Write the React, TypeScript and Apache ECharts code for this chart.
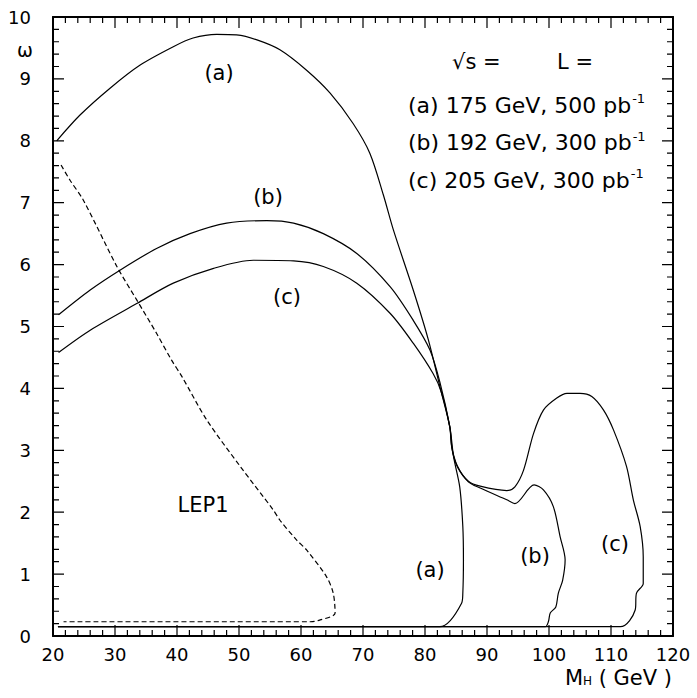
import React, { useEffect, useRef } from "react";
import * as echarts from "echarts";

const xMajorTicks = [20, 30, 40, 50, 60, 70, 80, 90, 100, 110, 120];
const yMajorTicks = [0, 1, 2, 3, 4, 5, 6, 7, 8, 9, 10];
const minorPerMajor = 5;

const curveA: number[][] = [
  [20.6, 8.0], [24.4, 8.42], [29.2, 8.85], [34.0, 9.22], [39.4, 9.52], [42.6, 9.66],
  [46.4, 9.72], [49.6, 9.71], [52.9, 9.63], [56.6, 9.47], [60.9, 9.14], [64.7, 8.77],
  [68.4, 8.28], [71.1, 7.8], [73.3, 7.12], [74.9, 6.56], [78.1, 5.59], [80.5, 4.8],
  [82.4, 4.03], [84.0, 3.38], [84.6, 2.9], [85.6, 2.41], [86.1, 1.77], [86.2, 1.23],
  [86.1, 0.69], [85.9, 0.53], [82.4, 0.15], [20.8, 0.15],
];

const curveB: number[][] = [
  [20.9, 5.19], [26.0, 5.59], [30.8, 5.91], [36.7, 6.26], [42.1, 6.5], [48.0, 6.67],
  [54.5, 6.71], [58.8, 6.67], [63.6, 6.5], [69.0, 6.18], [74.4, 5.64], [78.1, 5.1],
  [80.8, 4.62], [82.4, 4.1], [84.0, 3.38], [84.3, 3.06], [85.2, 2.75], [87.0, 2.49],
  [88.9, 2.39], [93.2, 2.2], [94.5, 2.14], [97.6, 2.44], [99.1, 2.36], [100.7, 2.09],
  [101.8, 1.6], [102.6, 1.23], [102.2, 0.9], [101.5, 0.69], [101.1, 0.47], [100.2, 0.37],
  [99.9, 0.23], [99.4, 0.15], [20.8, 0.15],
];

const curveC: number[][] = [
  [20.9, 4.58], [26.0, 4.94], [33.5, 5.37], [39.4, 5.7], [45.9, 5.94], [52.3, 6.07],
  [58.8, 6.06], [63.6, 5.97], [69.0, 5.7], [74.4, 5.21], [78.1, 4.73], [81.3, 4.24],
  [82.6, 3.95], [84.0, 3.38], [84.4, 3.0], [85.3, 2.72], [87.0, 2.5], [88.9, 2.42],
  [93.2, 2.35], [94.5, 2.41], [95.9, 2.68], [97.5, 3.27], [99.1, 3.65], [101.2, 3.84],
  [102.9, 3.92], [105.0, 3.92], [106.9, 3.87], [108.8, 3.65], [110.4, 3.33], [112.5, 2.74],
  [113.6, 2.2], [114.7, 1.77], [115.2, 1.28], [115.2, 0.85], [114.1, 0.69], [113.9, 0.42],
  [111.5, 0.15], [20.8, 0.15],
];

const lep1: number[][] = [
  [21.3, 7.61], [22.7, 7.37], [24.9, 7.04], [30.3, 5.97], [33.5, 5.43], [36.7, 4.89],
  [39.1, 4.46], [40.8, 4.19], [44.8, 3.49], [50.2, 2.74], [55.5, 2.04], [56.6, 1.87],
  [59.3, 1.55], [60.9, 1.39], [64.1, 0.96], [65.2, 0.69], [65.5, 0.37], [63.1, 0.26],
  [61.5, 0.23], [21.7, 0.23],
];

const legendLines = [
  { id: "(a)", sqrtS: "175 GeV", lumi: "500 pb" },
  { id: "(b)", sqrtS: "192 GeV", lumi: "300 pb" },
  { id: "(c)", sqrtS: "205 GeV", lumi: "300 pb" },
];

const FONT = "DejaVu Sans";
const INK = "#000";

// grid geometry (pixels) used to express tick lengths in data units
const GRID = { left: 53, right: 24, top: 17, bottom: 62 };
const W = 697, H = 698;
const MAJOR_LEN = 11, MINOR_LEN = 6;

function axisParts(showLabel: boolean, margin: number) {
  return {
    axisLine: { show: true, onZero: false, lineStyle: { color: INK, width: 2 } },
    axisTick: { show: false },
    minorTick: { show: false },
    splitLine: { show: false },
    axisLabel: showLabel
      ? { show: true, color: INK, fontSize: 18, fontFamily: FONT, margin }
      : { show: false },
  };
}

function subdivide(majors: number[]): number[][] {
  const out: number[][] = [];
  majors.forEach((v, i) => {
    out.push([v, 1]);
    const next = majors[i + 1];
    if (next !== undefined) {
      for (let k = 1; k < minorPerMajor; k++) out.push([v + ((next - v) * k) / minorPerMajor, 0]);
    }
  });
  return out;
}

// One polyline that walks round the frame and makes an in-and-back spike at each tick.
function frameTickPath(): number[][] {
  const xMin = xMajorTicks[0], xMax = xMajorTicks[xMajorTicks.length - 1];
  const yMin = yMajorTicks[0], yMax = yMajorTicks[yMajorTicks.length - 1];
  const plotW = W - GRID.left - GRID.right;
  const plotH = H - GRID.top - GRID.bottom;
  const yPerPx = (yMax - yMin) / plotH;
  const xPerPx = (xMax - xMin) / plotW;
  const xt = subdivide(xMajorTicks);
  const yt = subdivide(yMajorTicks);
  const pts: number[][] = [];
  // bottom, left to right
  xt.forEach(([v, m]) => {
    const d = (m ? MAJOR_LEN : MINOR_LEN) * yPerPx;
    pts.push([v, yMin], [v, yMin + d], [v, yMin]);
  });
  // right, bottom to top
  yt.forEach(([v, m]) => {
    const d = (m ? MAJOR_LEN : MINOR_LEN) * xPerPx;
    pts.push([xMax, v], [xMax - d, v], [xMax, v]);
  });
  // top, right to left
  [...xt].reverse().forEach(([v, m]) => {
    const d = (m ? MAJOR_LEN : MINOR_LEN) * yPerPx;
    pts.push([v, yMax], [v, yMax - d], [v, yMax]);
  });
  // left, top to bottom
  [...yt].reverse().forEach(([v, m]) => {
    const d = (m ? MAJOR_LEN : MINOR_LEN) * xPerPx;
    pts.push([xMin, v], [xMin + d, v], [xMin, v]);
  });
  return pts;
}

export default function App() {
  const ref = useRef<HTMLDivElement>(null);
  useEffect(() => {
    if (!ref.current) return;
    const chart = echarts.init(ref.current, null, { renderer: "svg" });
    const xMin = xMajorTicks[0], xMax = xMajorTicks[xMajorTicks.length - 1];
    const yMin = yMajorTicks[0], yMax = yMajorTicks[yMajorTicks.length - 1];
    const textStyle = { fill: INK, fontSize: 21, fontFamily: FONT };
    const label = (t: string, x: number, y: number, extra: any = {}) => ({
      type: "text", x, y,
      style: { text: t, ...textStyle, align: "center", verticalAlign: "middle", ...extra },
    });
    const lineSeries = (name: string, data: number[][], dashed = false) => ({
      name, type: "line", data, showSymbol: false, symbol: "none", smooth: 0.3,
      lineStyle: { color: INK, width: 1.2, type: dashed ? [5, 3] : "solid" },
    });
    chart.setOption({
      animation: false,
      grid: { ...GRID },
      xAxis: [
        { type: "value", min: xMin, max: xMax, interval: 10, position: "bottom", ...axisParts(true, 9) },
        { type: "value", min: xMin, max: xMax, interval: 10, position: "top", ...axisParts(false, 0) },
      ],
      yAxis: [
        { type: "value", min: yMin, max: yMax, interval: 1, position: "left", ...axisParts(true, 22) },
        { type: "value", min: yMin, max: yMax, interval: 1, position: "right", ...axisParts(false, 0) },
      ],
      series: [
        lineSeries("(a)", curveA),
        lineSeries("(b)", curveB),
        lineSeries("(c)", curveC),
        lineSeries("LEP1", lep1, true),
        {
          name: "frame ticks", type: "line", data: frameTickPath(), showSymbol: false, symbol: "none",
          smooth: false, clip: false, silent: true, z: 3,
          lineStyle: { color: INK, width: 1.2, cap: "butt", join: "bevel" },
        },
      ],
      graphic: [
        label("(a)", 219, 73),
        label("(b)", 268, 197),
        label("(c)", 287, 297),
        label("LEP1", 203, 505),
        label("(a)", 430, 570),
        label("(b)", 535, 556),
        label("(c)", 615, 544),
        label("√s =", 452, 62, { align: "left" }),
        label("L =", 557, 62, { align: "left" }),
        ...legendLines.map((l, i) => ({
          type: "text", x: 408, y: 105 + i * 37.5,
          style: {
            text: `{m|${l.id} ${l.sqrtS}, ${l.lumi}}{s|-1}`,
            align: "left", verticalAlign: "middle",
            rich: {
              m: { fontSize: 22, fontFamily: FONT, color: INK, lineHeight: 26, verticalAlign: "middle" },
              s: { fontSize: 13, fontFamily: FONT, color: INK, lineHeight: 26, verticalAlign: "top", padding: [0, 0, 0, 1] },
            },
          },
        })),
        {
          type: "text", x: 25, y: 50,
          style: { text: "ω", fill: INK, fontSize: 19, fontFamily: FONT, align: "center", verticalAlign: "middle" },
        },
        {
          type: "text", x: 672, y: 678,
          style: {
            text: "{m|M}{h|H}{n| ( GeV )}",
            align: "right", verticalAlign: "middle",
            rich: {
              m: { fontSize: 21, fontFamily: FONT, color: INK, lineHeight: 24, verticalAlign: "middle" },
              h: { fontSize: 12, fontFamily: FONT, color: INK, lineHeight: 24, verticalAlign: "bottom", padding: [0, 0, 3, 0] },
              n: { fontSize: 21, fontFamily: FONT, color: INK, lineHeight: 24, verticalAlign: "middle" },
            },
          },
        },
      ],
    });
    return () => chart.dispose();
  }, []);
  return (
    <div
      ref={ref}
      style={{ position: "absolute", left: 0, top: 0, width: W, height: H, background: "#fff" }}
    />
  );
}
